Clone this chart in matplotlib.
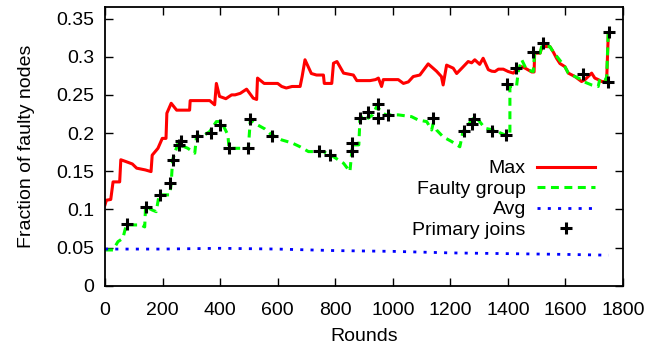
import matplotlib
matplotlib.use('Agg')
import matplotlib.pyplot as plt

plt.rcParams['font.family'] = ['Liberation Sans', 'DejaVu Sans']
plt.rcParams['font.size'] = 14

# values
max_x = [0, 5, 20, 28, 51, 55, 70, 95, 110, 140, 160, 164, 184, 199, 212, 215, 230, 249, 294, 296,
         364, 381, 387, 398, 420, 440, 452, 470, 492, 515, 527, 530, 553, 600, 614, 630, 650, 678,
         685, 695, 717, 735, 759, 762, 788, 794, 806, 829, 863, 875, 921, 940, 950, 961, 967, 1019,
         1037, 1054, 1071, 1094, 1123, 1140, 1152, 1169, 1175, 1187, 1210, 1222, 1240, 1262, 1274,
         1285, 1302, 1314, 1332, 1344, 1355, 1367, 1384, 1401, 1419, 1430, 1448, 1460, 1483, 1491,
         1493, 1512, 1517, 1529, 1546, 1558, 1569, 1581, 1598, 1610, 1633, 1656, 1668, 1691, 1702,
         1714, 1726, 1743, 1749]
max_y = [0.106, 0.112, 0.113, 0.136, 0.136, 0.165, 0.163, 0.1595, 0.154, 0.1517, 0.1495, 0.171,
         0.180, 0.193, 0.193, 0.226, 0.239, 0.230, 0.230, 0.2425, 0.2425, 0.237, 0.265, 0.248,
         0.245, 0.250, 0.250, 0.252, 0.2575, 0.2457, 0.244, 0.272, 0.265, 0.265, 0.261, 0.259,
         0.261, 0.261, 0.274, 0.296, 0.278, 0.276, 0.276, 0.265, 0.265, 0.2915, 0.2937, 0.2785,
         0.276, 0.2687, 0.2687, 0.270, 0.272, 0.261, 0.270, 0.270, 0.265, 0.267, 0.274, 0.276,
         0.2906, 0.285, 0.281, 0.274, 0.263, 0.289, 0.285, 0.278, 0.285, 0.2937, 0.292, 0.296,
         0.290, 0.298, 0.283, 0.281, 0.2806, 0.2837, 0.2837, 0.2806, 0.2785, 0.283, 0.287, 0.285,
         0.280, 0.280, 0.3047, 0.3047, 0.311, 0.3133, 0.3133, 0.306, 0.298, 0.291, 0.287, 0.2785,
         0.274, 0.2675, 0.270, 0.2785, 0.272, 0.270, 0.2675, 0.2675, 0.331]

faulty_x = [0, 28, 45, 62, 74, 125, 138, 141, 165, 178, 188, 225, 230, 235, 254, 270, 288, 312,
            318, 340, 364, 387, 404, 427, 431, 498, 505, 530, 555, 579, 614, 650, 678, 707, 759,
            794, 829, 851, 860, 882, 886, 909, 915, 930, 944, 961, 975, 1019, 1065, 1089, 1118,
            1135, 1140, 1152, 1175, 1204, 1233, 1244, 1262, 1274, 1286, 1302, 1320, 1349, 1390,
            1407, 1407, 1430, 1436, 1448, 1465, 1488, 1493, 1512, 1517, 1529, 1546, 1558, 1575,
            1598, 1610, 1633, 1656, 1662, 1691, 1714, 1720, 1743, 1749]
faulty_y = [0.0468, 0.0468, 0.0577, 0.062, 0.0796, 0.0796, 0.077, 0.1036, 0.099, 0.097, 0.119,
            0.119, 0.134, 0.165, 0.187, 0.183, 0.180, 0.1736, 0.196, 0.196, 0.202, 0.215, 0.215,
            0.1976, 0.180, 0.180, 0.217, 0.2107, 0.2055, 0.1976, 0.191, 0.187, 0.182, 0.1757,
            0.1757, 0.169, 0.1604, 0.1495, 0.1845, 0.1845, 0.2195, 0.2238, 0.2195, 0.224, 0.2347,
            0.228, 0.2238, 0.2238, 0.2215, 0.217, 0.215, 0.204, 0.212, 0.204, 0.195, 0.189, 0.182,
            0.2018, 0.2107, 0.217, 0.2215, 0.215, 0.2063, 0.204, 0.1976, 0.1976, 0.261, 0.261,
            0.2806, 0.296, 0.283, 0.2806, 0.3047, 0.3047, 0.313, 0.313, 0.3133, 0.306, 0.298,
            0.287, 0.2785, 0.274, 0.270, 0.2675, 0.263, 0.261, 0.272, 0.270, 0.335]

avg_x = [0, 200, 400, 600, 800, 1000, 1200, 1400, 1600, 1750]
avg_y = [0.048, 0.048, 0.049, 0.048, 0.046, 0.045, 0.043, 0.042, 0.041, 0.040]

join_x = [76, 144, 192, 227, 236, 257, 265, 321, 367, 398, 431, 496, 504, 582, 744, 782, 857,
          859, 886, 913, 950, 950, 984, 1139, 1249, 1274, 1283, 1344, 1392, 1396, 1427, 1488,
          1521, 1662, 1747, 1751]
join_y = [0.0809, 0.1036, 0.119, 0.135, 0.165, 0.1845, 0.189, 0.196, 0.2006, 0.2107, 0.180,
          0.180, 0.218, 0.196, 0.177, 0.1713, 0.177, 0.1867, 0.2195, 0.228, 0.238, 0.2195,
          0.2238, 0.2195, 0.2028, 0.212, 0.218, 0.2028, 0.1976, 0.2644, 0.285, 0.306, 0.3186,
          0.2775, 0.2675, 0.333]

fig = plt.figure(figsize=(6.62, 3.48), dpi=100)
ax = fig.add_axes([0.1586, 0.179, 0.7825, 0.8017])

ax.plot(max_x, max_y, color='#ff0000', lw=2.2, label='Max')
ax.plot(faulty_x, faulty_y, color='#00ff00', lw=2.2, ls=(0, (2.6, 1.8)), label='Faulty group')
ax.plot(avg_x, avg_y, color='#0000ff', lw=2.0, ls=(0, (1.1, 2.6)), label='Avg')
ax.plot(join_x, join_y, ls='none', marker='+', ms=9, mew=2.2, color='black', label='Primary joins')

ax.set_xlim(0, 1800)
ax.set_ylim(0, 0.3655)
ax.set_xticks(range(0, 1801, 200))
ax.set_yticks([0, 0.05, 0.1, 0.15, 0.2, 0.25, 0.3, 0.35])
ax.set_yticklabels(['0', '0.05', '0.1', '0.15', '0.2', '0.25', '0.3', '0.35'])
ax.tick_params(direction='in', length=5.5, width=1, top=True, right=True, pad=8)
ax.tick_params(axis='x', pad=12)
for s in ax.spines.values():
    s.set_linewidth(1.3)

ax.set_xlabel('Rounds', labelpad=6)
ax.set_ylabel('Fraction of faulty nodes', labelpad=15)

ax.legend(loc='upper right', bbox_to_anchor=(0.972, 0.5), frameon=False, markerfirst=False,
          handlelength=3.0, labelspacing=0.15, handletextpad=0.55, borderpad=0.2)

fig.savefig('out.png', dpi=100)
